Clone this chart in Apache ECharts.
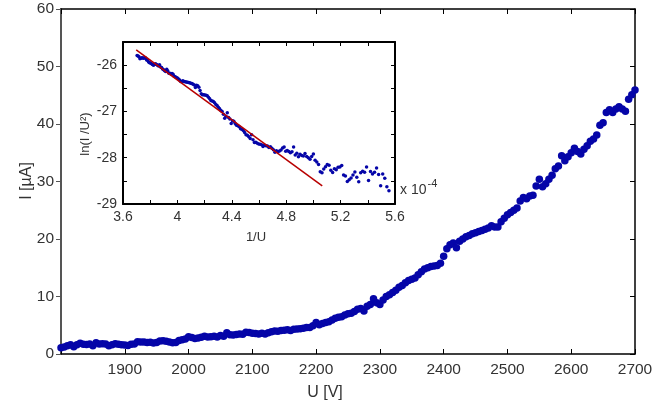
<!DOCTYPE html>
<html><head><meta charset="utf-8">
<script src="https://cdn.jsdelivr.net/npm/echarts@6/dist/echarts.min.js"></script>
<style>html,body{margin:0;padding:0;background:#fff}#c{width:669px;height:411px}</style>
</head><body><div id="c"></div>
<script>
// Applied voltage U [V]
const voltage = [
1800,1805,1810,1815,1820,1825,1830,1835,1840,1845,1850,1855,1860,1865,1870,1875,1880,1885,1890,1895,
1900,1905,1910,1915,1920,1925,1930,1935,1940,1945,1950,1955,1960,1965,1970,1975,1980,1985,1990,1995,
2000,2005,2010,2015,2020,2025,2030,2035,2040,2045,2050,2055,2060,2065,2070,2075,2080,2085,2090,2095,
2100,2105,2110,2115,2120,2125,2130,2135,2140,2145,2150,2155,2160,2165,2170,2175,2180,2185,2190,2195,
2200,2205,2210,2215,2220,2225,2230,2235,2240,2245,2250,2255,2260,2265,2270,2275,2280,2285,2290,2295,
2300,2305,2310,2315,2320,2325,2330,2335,2340,2345,2350,2355,2360,2365,2370,2375,2380,2385,2390,2395,
2400,2405,2410,2415,2420,2425,2430,2435,2440,2445,2450,2455,2460,2465,2470,2475,2480,2485,2490,2495,
2500,2505,2510,2515,2520,2525,2530,2535,2540,2545,2550,2555,2560,2565,2570,2575,2580,2585,2590,2595,
2600,2605,2610,2615,2620,2625,2630,2635,2640,2645,2650,2655,2660,2665,2670,2675,2680,2685,2690,2695,
2700
];
// Measured current I [uA]
const current = [
1.1,1.2,1.45,1.6,1.25,1.6,1.85,1.7,1.65,1.75,1.45,1.95,1.75,1.8,1.75,1.45,1.6,1.8,1.7,1.6,
1.55,1.5,1.7,1.75,2.15,2.1,2.1,2.0,2.05,1.9,2.0,2.25,2.3,2.2,2.1,1.95,2.0,2.35,2.5,2.6,
3.0,2.85,2.7,2.8,2.9,3.1,2.95,3.0,3.1,2.95,3.2,3.1,3.7,3.35,3.3,3.4,3.5,3.45,3.8,3.75,
3.6,3.55,3.5,3.6,3.5,3.7,3.85,4.0,3.95,4.1,4.15,4.2,4.1,4.3,4.35,4.4,4.5,4.6,4.6,4.9,
5.5,5.1,5.3,5.5,5.6,5.9,6.2,6.4,6.5,6.8,7.0,7.1,7.4,7.8,7.9,7.5,8.3,8.6,9.6,8.9,
8.6,9.4,10.0,10.3,10.7,11.1,11.6,11.9,12.4,12.8,13.0,13.2,13.8,14.3,14.8,15.0,15.2,15.3,15.4,15.8,
17.0,18.3,19.0,19.3,18.5,19.6,20.0,20.4,20.6,20.9,21.1,21.3,21.5,21.7,21.9,22.3,22.1,22.1,23.0,23.6,
24.2,24.6,25.0,25.4,26.6,27.2,27.0,27.5,27.6,29.2,30.4,29.1,29.6,30.4,31.1,32.2,32.7,34.5,33.6,34.3,
35.0,35.8,35.2,34.8,35.6,36.2,37.0,37.4,38.1,39.8,40.2,42.0,42.5,42.0,42.6,43.0,42.6,42.2,44.3,45.1,
45.9
];
// Straight-line fit shown in the inset (x in 1e-4 / V, y = ln(I/U^2))
const fitX = [3.697, 5.065];
const fitY = [-25.67, -28.61];
// Tick labels
const mainXLabels = ['1900','2000','2100','2200','2300','2400','2500','2600','2700'];
const insetXLabels = ['3.6','4','4.4','4.8','5.2','5.6'];
const insetYLabels = ['-29','-28','-27','-26'];

// Inset: Fowler-Nordheim coordinates of the same measurement
const mainPts = voltage.map((u, i) => [u, current[i]]);
const insetPts = voltage.map((u, i) => [1e4 / u, Math.log(current[i] * 1e-6 / (u * u))]);
const fitPts = fitX.map((x, i) => [x, fitY[i]]);

const FONT = 'Liberation Sans, Arial, sans-serif';
const TXT = '#333';
const BLUE = '#0505a8';

function fmt(v, labels) {
  const s = String(Math.round(v * 10) / 10);
  return labels.indexOf(s) >= 0 ? s : '';
}

const chart = echarts.init(document.getElementById('c'), null, {renderer: 'canvas'});
chart.setOption({
  animation: false,
  backgroundColor: '#fff',
  grid: [
    {left: 61, right: 34, top: 9, bottom: 57, show: false},
    {left: 123, top: 42, width: 272, height: 162, show: true, backgroundColor: '#fff', borderWidth: 0, z: 5}
  ],
  xAxis: [
    {gridIndex: 0, type: 'value', min: 1800, max: 2700, interval: 100, position: 'bottom',
     axisLine: {onZero: false, lineStyle: {color: '#000', width: 1.5}},
     axisTick: {inside: true, length: 5, lineStyle: {color: '#000', width: 1}},
     axisLabel: {margin: 8, color: TXT, fontSize: 15.5, fontFamily: FONT,
       formatter: v => mainXLabels.indexOf(String(v)) >= 0 ? String(v) : ''},
     splitLine: {show: false}},
    {gridIndex: 0, type: 'value', min: 1800, max: 2700, interval: 100, position: 'top',
     axisLine: {onZero: false, lineStyle: {color: '#000', width: 1.5}},
     axisTick: {inside: true, length: 5, lineStyle: {color: '#000', width: 1}},
     axisLabel: {show: false}, splitLine: {show: false}},
    {gridIndex: 1, type: 'value', min: 3.6, max: 5.6, interval: 0.2, position: 'bottom', z: 6,
     axisLine: {onZero: false, lineStyle: {color: '#000', width: 2}},
     axisTick: {inside: true, length: 4, lineStyle: {color: '#000', width: 1}},
     axisLabel: {margin: 6, color: TXT, fontSize: 14, fontFamily: FONT, formatter: v => fmt(v, insetXLabels)},
     splitLine: {show: false}},
    {gridIndex: 1, type: 'value', min: 3.6, max: 5.6, interval: 0.2, position: 'top', z: 6,
     axisLine: {onZero: false, lineStyle: {color: '#000', width: 2}},
     axisTick: {inside: true, length: 4, lineStyle: {color: '#000', width: 1}},
     axisLabel: {show: false}, splitLine: {show: false}}
  ],
  yAxis: [
    {gridIndex: 0, type: 'value', min: 0, max: 60, interval: 10, position: 'left',
     axisLine: {show: true, onZero: false, lineStyle: {color: '#555', width: 2}},
     axisTick: {show: true, inside: false, length: 5, lineStyle: {color: '#555', width: 1}},
     axisLabel: {margin: 7, color: TXT, fontSize: 15.5, fontFamily: FONT},
     splitLine: {show: false}},
    {gridIndex: 0, type: 'value', min: 0, max: 60, interval: 10, position: 'right',
     axisLine: {show: true, onZero: false, lineStyle: {color: '#000', width: 1.5}},
     axisTick: {show: true, inside: true, length: 5, lineStyle: {color: '#000', width: 1}},
     axisLabel: {show: false}, splitLine: {show: false}},
    {gridIndex: 1, type: 'value', min: -29, max: -25.5, interval: 0.5, position: 'left', z: 6,
     axisLine: {show: true, onZero: false, lineStyle: {color: '#000', width: 2}},
     axisTick: {show: true, inside: true, length: 4, lineStyle: {color: '#000', width: 1}},
     axisLabel: {margin: 6, color: TXT, fontSize: 14, fontFamily: FONT, formatter: v => fmt(v, insetYLabels)},
     splitLine: {show: false}},
    {gridIndex: 1, type: 'value', min: -29, max: -25.5, interval: 0.5, position: 'right', z: 6,
     axisLine: {show: true, onZero: false, lineStyle: {color: '#000', width: 2}},
     axisTick: {show: true, inside: true, length: 4, lineStyle: {color: '#000', width: 1}},
     axisLabel: {show: false}, splitLine: {show: false}}
  ],
  series: [
    {type: 'scatter', xAxisIndex: 0, yAxisIndex: 0, data: mainPts, symbolSize: 7.5,
     itemStyle: {color: BLUE, opacity: 1}, z: 3},
    {type: 'scatter', xAxisIndex: 2, yAxisIndex: 2, data: insetPts, symbolSize: 3.5,
     itemStyle: {color: BLUE, opacity: 1}, z: 7},
    {type: 'line', xAxisIndex: 2, yAxisIndex: 2, data: fitPts, showSymbol: false, symbol: 'none',
     lineStyle: {color: '#b80000', width: 1.5}, z: 8}
  ],
  graphic: [
    {type: 'text', x: 325, y: 393, style: {text: 'U [V]', font: '16px ' + FONT, fill: TXT, textAlign: 'center', textVerticalAlign: 'middle'}},
    {type: 'text', x: 27, y: 181, rotation: Math.PI / 2, style: {text: 'I [\u00b5A]', font: '16px ' + FONT, fill: TXT, textAlign: 'center', textVerticalAlign: 'middle'}},
    {type: 'text', x: 85, y: 134, rotation: Math.PI / 2, z: 10, style: {text: 'ln(I /U\u00b2)', font: '13px ' + FONT, fill: TXT, textAlign: 'center', textVerticalAlign: 'middle'}},
    {type: 'text', x: 256, y: 237, z: 10, style: {text: '1/U', font: '13px ' + FONT, fill: TXT, textAlign: 'center', textVerticalAlign: 'middle'}},
    {type: 'text', x: 400, y: 190, z: 10, style: {text: 'x 10', font: '14px ' + FONT, fill: TXT, textAlign: 'left', textVerticalAlign: 'middle'}},
    {type: 'text', x: 427.5, y: 184, z: 10, style: {text: '-4', font: '11px ' + FONT, fill: TXT, textAlign: 'left', textVerticalAlign: 'middle'}}
  ]
});
</script>
</body></html>
